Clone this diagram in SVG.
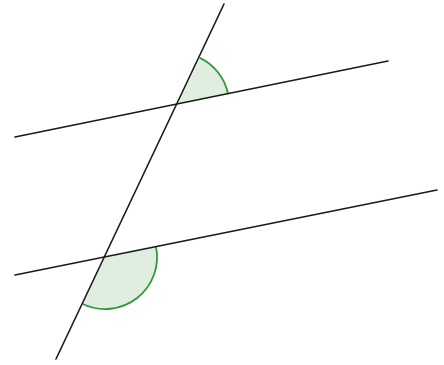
<svg xmlns="http://www.w3.org/2000/svg" width="444" height="365" viewBox="0 0 444 365">
<style>
.ln{stroke:#1a1a1a;stroke-width:1.6;fill:none;stroke-linecap:round}
.ang{fill:#dfeede;stroke:none}
.arc{fill:none;stroke:#2f9a36;stroke-width:1.8}
</style>
<rect width="444" height="365" fill="#ffffff"/>
<g id="angle-top">
<path class="ang" d="M178,104 L199.8,57.9 A51,51 0 0 1 228,93.8 Z"/>
<path class="arc" d="M199.8,57.9 A51,51 0 0 1 228,93.8"/>
</g>
<g id="angle-bottom">
<path class="ang" d="M105,257 L156,246.6 A52,52 0 0 1 82.7,304 Z"/>
<path class="arc" d="M156,246.6 A52,52 0 0 1 82.7,304"/>
</g>
<g id="connectors">
<line class="ln" x1="15" y1="137" x2="388" y2="61"/>
<line class="ln" x1="15" y1="275" x2="437" y2="190"/>
<line class="ln" x1="224" y1="4" x2="56" y2="359"/>
</g>
</svg>
